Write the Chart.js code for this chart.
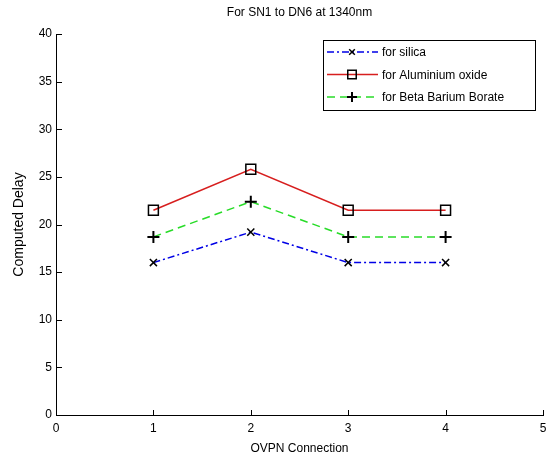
<!DOCTYPE html>
<html>
<head>
<meta charset="utf-8">
<script src="https://cdn.jsdelivr.net/npm/chart.js@4/dist/chart.umd.min.js"></script>
<style>
  html, body { margin: 0; padding: 0; background: #fff; }
  #wrap { width: 554px; height: 457px; }
</style>
</head>
<body>
<div id="wrap"><canvas id="delayChart" width="554" height="457"></canvas></div>
<script>
// OVPN connection numbers and computed delays
const connections = [1, 2, 3, 4];
const silica = [16.0, 19.2, 16.0, 16.0];
const aluminiumOxide = [21.5, 25.8, 21.5, 21.5];
const betaBariumBorate = [18.7, 22.4, 18.7, 18.7];

const xTicks = [0, 1, 2, 3, 4, 5];
const yTicks = [0, 5, 10, 15, 20, 25, 30, 35, 40];

const chartTitle = 'For SN1 to DN6 at 1340nm';

const FONT = 'Liberation Sans, Arial, sans-serif';
const toPoints = values => connections.map((c, i) => ({ x: c, y: values[i] }));

// MATLAB style inward ticks on the left and bottom axes, plus the title
const axesDecor = {
    id: 'axesDecor',
    afterDatasetsDraw(chart) {
        const { ctx, chartArea, scales } = chart;
        ctx.save();
        ctx.strokeStyle = '#000';
        ctx.lineWidth = 1;
        ctx.beginPath();
        xTicks.forEach(v => {
            const px = Math.round(scales.x.getPixelForValue(v)) + 0.5;
            ctx.moveTo(px, chartArea.bottom);
            ctx.lineTo(px, chartArea.bottom - 5);
        });
        yTicks.forEach(v => {
            const py = Math.round(scales.y.getPixelForValue(v)) + 0.5;
            ctx.moveTo(chartArea.left, py);
            ctx.lineTo(chartArea.left + 6, py);
        });
        ctx.stroke();

        // title centred over the axes
        ctx.fillStyle = '#000';
        ctx.font = '12px ' + FONT;
        ctx.textAlign = 'center';
        ctx.textBaseline = 'middle';
        ctx.fillText(chartTitle, (chartArea.left + chartArea.right) / 2, 13);
        ctx.restore();
    }
};

// Boxed legend with line + marker samples, top right inside the axes
const boxLegend = {
    id: 'boxLegend',
    afterDraw(chart) {
        const { ctx, chartArea } = chart;
        const boxRight = chartArea.right - 8;
        const boxTop = chartArea.top + 6;
        const boxW = 212, boxH = 70, rowH = 22.5;
        const left = boxRight - boxW;
        ctx.save();
        ctx.fillStyle = '#fff';
        ctx.fillRect(left, boxTop, boxW, boxH);
        ctx.strokeStyle = '#000';
        ctx.lineWidth = 1;
        ctx.strokeRect(Math.round(left) + 0.5, Math.round(boxTop) + 0.5, boxW, boxH);
        ctx.font = '12px ' + FONT;
        ctx.textBaseline = 'middle';
        chart.data.datasets.forEach((ds, i) => {
            const y = boxTop + 12 + i * rowH;
            ctx.strokeStyle = ds.borderColor;
            ctx.lineWidth = ds.borderWidth;
            ctx.setLineDash(ds.borderDash || []);
            ctx.beginPath();
            ctx.moveTo(left + 4, y);
            ctx.lineTo(left + 55, y);
            ctx.stroke();
            ctx.setLineDash([]);
            ctx.strokeStyle = ds.pointBorderColor;
            ctx.fillStyle = ds.pointBackgroundColor;
            ctx.lineWidth = ds.pointBorderWidth;
            Chart.helpers.drawPoint(ctx, {
                pointStyle: ds.pointStyle,
                radius: ds.pointRadius - 1,
                borderWidth: ds.pointBorderWidth
            }, left + 29, y);
            ctx.fillStyle = '#000';
            ctx.fillText(ds.label, left + 59, y + 1);
        });
        ctx.restore();
    }
};

const ctx = document.getElementById('delayChart').getContext('2d');
new Chart(ctx, {
    type: 'line',
    data: {
        datasets: [
            {
                label: 'for silica',
                data: toPoints(silica),
                borderColor: 'rgb(0, 0, 230)',
                borderWidth: 1.5,
                borderDash: [7, 3, 2, 3],
                pointStyle: 'crossRot',
                pointRadius: 5,
                pointBorderColor: '#000',
                pointBackgroundColor: '#000',
                pointBorderWidth: 1.5
            },
            {
                label: 'for Aluminium oxide',
                data: toPoints(aluminiumOxide),
                borderColor: 'rgb(215, 30, 30)',
                borderWidth: 1.5,
                pointStyle: 'rect',
                pointRadius: 7,
                pointBorderColor: '#000',
                pointBackgroundColor: 'rgba(0,0,0,0)',
                pointBorderWidth: 1.5
            },
            {
                label: 'for Beta Barium Borate',
                data: toPoints(betaBariumBorate),
                borderColor: 'rgb(40, 220, 40)',
                borderWidth: 1.5,
                borderDash: [8, 5],
                pointStyle: 'cross',
                pointRadius: 6,
                pointBorderColor: '#000',
                pointBackgroundColor: '#000',
                pointBorderWidth: 2
            }
        ]
    },
    options: {
        responsive: false,
        animation: false,
        layout: { padding: { top: 34, right: 11, left: 0, bottom: 0 } },
        plugins: {
            legend: { display: false },
            tooltip: { enabled: false },
            title: { display: false }
        },
        scales: {
            x: {
                type: 'linear',
                min: 0,
                max: 5,
                afterBuildTicks: scale => { scale.ticks = xTicks.map(v => ({ value: v })); },
                afterFit: scale => { scale.height = 42; },
                grid: { display: true, drawOnChartArea: false, drawTicks: false },
                border: { display: true, color: '#000', width: 1 },
                ticks: { color: '#000', padding: 6, font: { family: FONT, size: 12 } },
                title: {
                    display: true,
                    text: 'OVPN Connection',
                    color: '#000',
                    font: { family: FONT, size: 12 },
                    padding: { top: 2, bottom: 1 }
                }
            },
            y: {
                min: 0,
                max: 40,
                afterBuildTicks: scale => { scale.ticks = yTicks.map(v => ({ value: v })); },
                afterFit: scale => { scale.width = 56; },
                grid: { display: true, drawOnChartArea: false, drawTicks: false },
                border: { display: true, color: '#000', width: 1 },
                ticks: { color: '#000', padding: 4, font: { family: FONT, size: 12 } },
                title: {
                    display: true,
                    text: 'Computed Delay',
                    color: '#000',
                    font: { family: FONT, size: 14 },
                    padding: { top: 11, bottom: 0 }
                }
            }
        }
    },
    plugins: [axesDecor, boxLegend]
});
</script>
</body>
</html>
